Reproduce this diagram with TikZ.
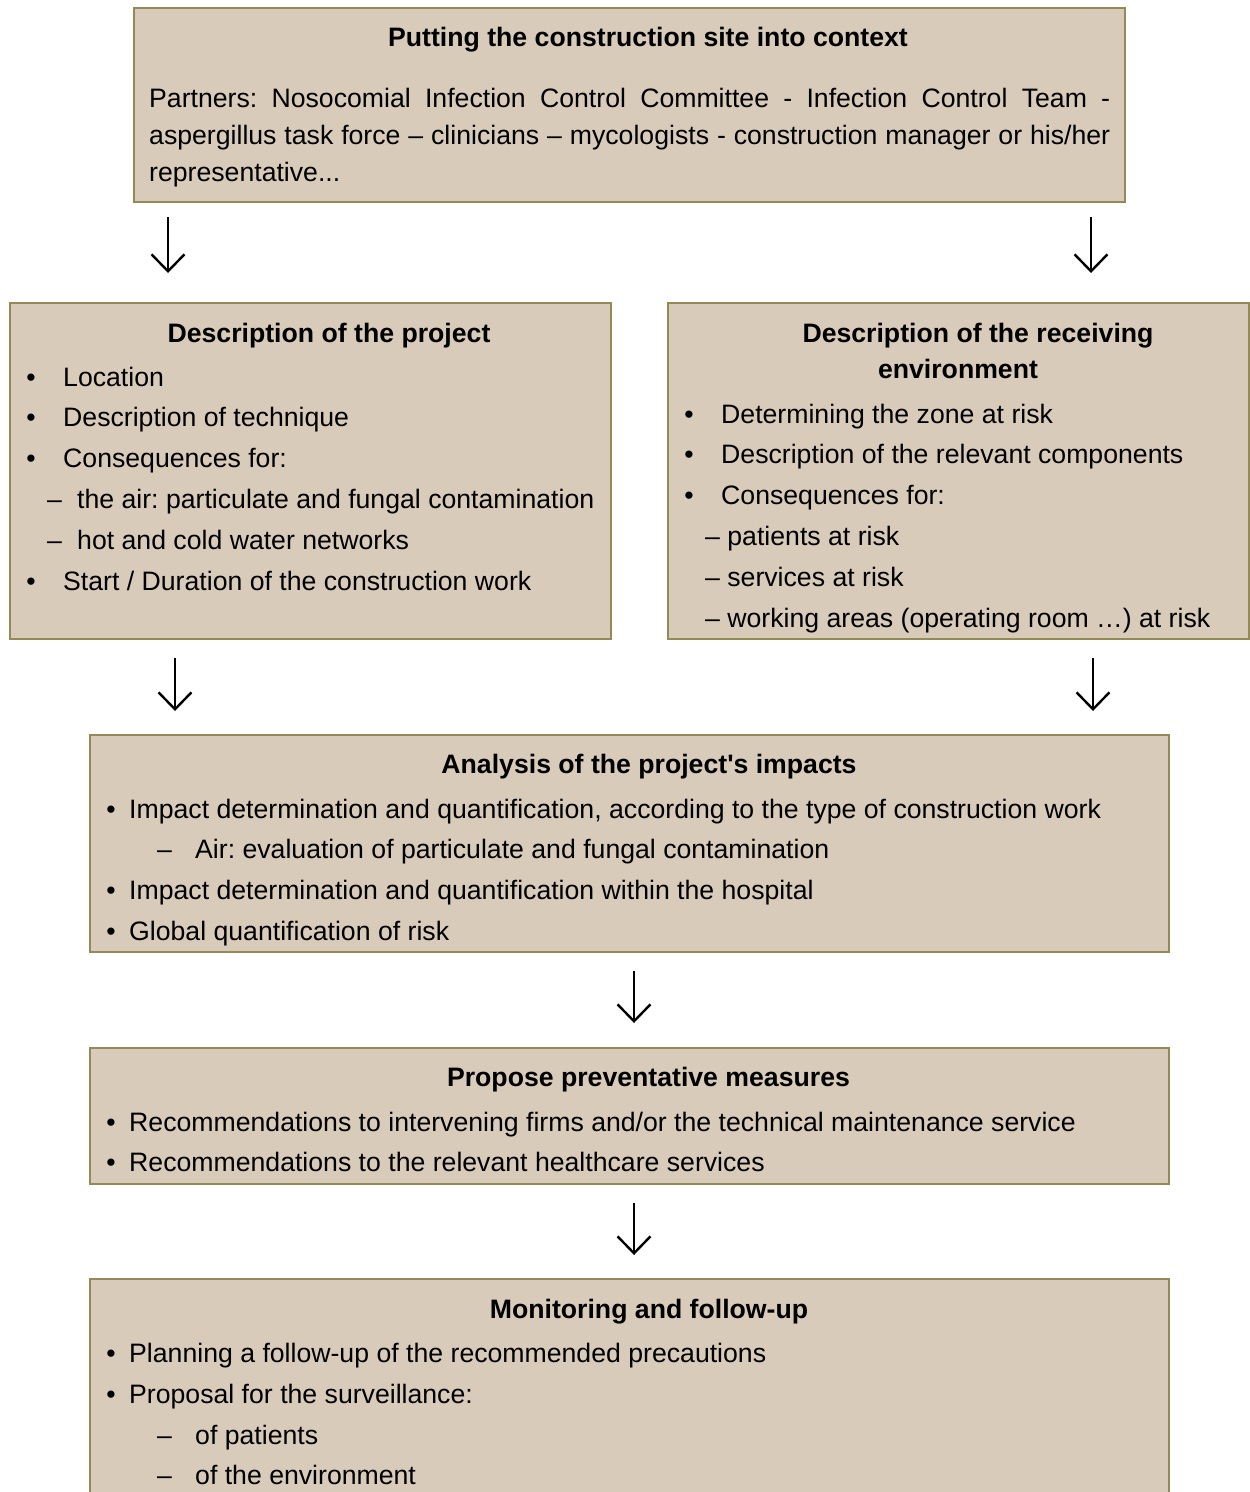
\documentclass[tikz,border=0pt]{standalone}
\usepackage{fontspec}
\setmainfont{Liberation Sans}
\usetikzlibrary{arrows.meta}
\frenchspacing
\definecolor{boxc}{HTML}{D8CBB9}
\definecolor{bordc}{HTML}{938A55}
\tikzset{
  box/.style={draw=bordc, fill=boxc, line width=2.7pt, anchor=north west, inner sep=0pt, outer sep=0pt},
  txt/.style={font=\fontsize{26.65}{32}\selectfont, inner sep=0pt, anchor=base west},
  bul/.style={font=\fontsize{26.65}{32}\selectfont, inner sep=0pt, anchor=base},
  ttl/.style={font=\fontsize{26.65}{32}\selectfont\bfseries, inner sep=0pt, anchor=base},
  arr/.style={line width=2.4pt, -{Straight Barb[length=17pt,width=33pt,line width=2.4pt]}}
}
\begin{document}
\begin{tikzpicture}[x=1pt,y=-1pt]
\useasboundingbox (0,0) rectangle (1250,1492);
\clip (0,0) rectangle (1250,1492);

% Box 1
\node[box, minimum width=991pt, minimum height=194pt] (b1) at (134,8) {};
\node[ttl] (b1t) at (648,46) {Putting the construction site into context};
\node[txt] (b1l1) at (149,107) {\makebox[961pt][s]{Partners: Nosocomial Infection Control Committee - Infection Control Team -}};
\node[txt] (b1l2) at (149,144) {\makebox[961pt][s]{aspergillus task force – clinicians – mycologists - construction manager or his/her}};
\node[txt] (b1l3) at (149,181) {representative...};

% arrows row 1
\coordinate (a1s) at (168,217); \coordinate (a1e) at (168,273);
\coordinate (a2s) at (1091,217); \coordinate (a2e) at (1091,273);
\draw[arr] (a1s) -- (a1e);
\draw[arr] (a2s) -- (a2e);

% Box 2
\node[box, minimum width=601pt, minimum height=336pt] (b2) at (10,303) {};
\node[ttl] (b2t) at (329,342) {Description of the project};
\node[bul] (b2b1) at (31,386) {•}; \node[txt] (b2l1) at (63,386) {Location};
\node[bul] (b2b2) at (31,426) {•}; \node[txt] (b2l2) at (63,426) {Description of technique};
\node[bul] (b2b3) at (31,467) {•}; \node[txt] (b2l3) at (63,467) {Consequences for:};
\node[txt] (b2d1) at (47,508) {–}; \node[txt] (b2l4) at (77,508) {the air: particulate and fungal contamination};
\node[txt] (b2d2) at (47,549) {–}; \node[txt] (b2l5) at (77,549) {hot and cold water networks};
\node[bul] (b2b4) at (31,590) {•}; \node[txt] (b2l6) at (63,590) {Start / Duration of the construction work};

% Box 3
\node[box, minimum width=581pt, minimum height=336pt] (b3) at (668,303) {};
\node[ttl] (b3t1) at (978,342) {Description of the receiving};
\node[ttl] (b3t2) at (958,378) {environment};
\node[bul] (b3b1) at (689,423) {•}; \node[txt] (b3l1) at (721,423) {Determining the zone at risk};
\node[bul] (b3b2) at (689,463) {•}; \node[txt] (b3l2) at (721,463) {Description of the relevant components};
\node[bul] (b3b3) at (689,504) {•}; \node[txt] (b3l3) at (721,504) {Consequences for:};
\node[txt] (b3l4) at (705,545) {– patients at risk};
\node[txt] (b3l5) at (705,586) {– services at risk};
\node[txt] (b3l6) at (705,627) {– working areas (operating room …) at risk};

% arrows row 2
\coordinate (a3s) at (175,658); \coordinate (a3e) at (175,711);
\coordinate (a4s) at (1093,658); \coordinate (a4e) at (1093,711);
\draw[arr] (a3s) -- (a3e);
\draw[arr] (a4s) -- (a4e);

% Box 4
\node[box, minimum width=1079pt, minimum height=217pt] (b4) at (90,735) {};
\node[ttl] (b4t) at (649,773) {Analysis of the project\textquotesingle s impacts};
\node[bul] (b4b1) at (111,818) {•}; \node[txt] (b4l1) at (129,818) {Impact determination and quantification, according to the type of construction work};
\node[txt] (b4d1) at (157,858) {–}; \node[txt] (b4l2) at (195,858) {Air: evaluation of particulate and fungal contamination};
\node[bul] (b4b2) at (111,899) {•}; \node[txt] (b4l3) at (129,899) {Impact determination and quantification within the hospital};
\node[bul] (b4b3) at (111,940) {•}; \node[txt] (b4l4) at (129,940) {Global quantification of risk};

% arrow 5
\coordinate (a5s) at (634,971); \coordinate (a5e) at (634,1023);
\draw[arr] (a5s) -- (a5e);

% Box 5
\node[box, minimum width=1079pt, minimum height=136pt] (b5) at (90,1048) {};
\node[ttl] (b5t) at (648.5,1086) {Propose preventative measures};
\node[bul] (b5b1) at (111,1131) {•}; \node[txt] (b5l1) at (129,1131) {Recommendations to intervening firms and/or the technical maintenance service};
\node[bul] (b5b2) at (111,1171) {•}; \node[txt] (b5l2) at (129,1171) {Recommendations to the relevant healthcare services};

% arrow 6
\coordinate (a6s) at (634,1203); \coordinate (a6e) at (634,1255);
\draw[arr] (a6s) -- (a6e);

% Box 6
\node[box, minimum width=1079pt, minimum height=260pt] (b6) at (90,1279) {};
\node[ttl] (b6t) at (649,1318) {Monitoring and follow-up};
\node[bul] (b6b1) at (111,1362) {•}; \node[txt] (b6l1) at (129,1362) {Planning a follow-up of the recommended precautions};
\node[bul] (b6b2) at (111,1403) {•}; \node[txt] (b6l2) at (129,1403) {Proposal for the surveillance:};
\node[txt] (b6d1) at (157,1444) {–}; \node[txt] (b6l3) at (195,1444) {of patients};
\node[txt] (b6d2) at (157,1484) {–}; \node[txt] (b6l4) at (195,1484) {of the environment};
\end{tikzpicture}
\end{document}
